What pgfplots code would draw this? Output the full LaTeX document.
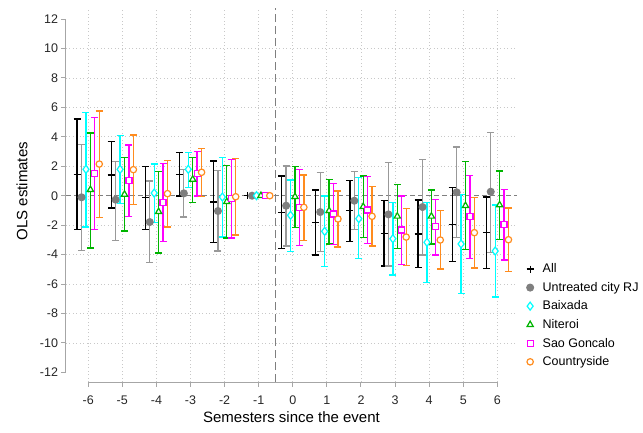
\documentclass[border=0pt]{standalone}
\usepackage{fontspec}
\setmainfont{Liberation Sans}
\usepackage{pgfplots}
\usepackage{pgfplotstable}
\pgfplotsset{compat=1.18}

\definecolor{c-all}{HTML}{000000}
\definecolor{c-rj}{HTML}{7F7F7F}
\definecolor{c-rjbar}{HTML}{999999}
\definecolor{c-baix}{HTML}{00FFFF}
\definecolor{c-nit}{HTML}{00B400}
\definecolor{c-sg}{HTML}{FF00FF}
\definecolor{c-cs}{HTML}{FF8C1E}
\definecolor{c-axis}{HTML}{A6A6A6}
\definecolor{c-grid}{HTML}{C8C8C8}

% t = semester, y = estimate, lo/hi = interval ends
\pgfplotstableread{
t y lo hi
-6 1.45 -2.28 5.21
-5 1.41 -0.84 3.69
-4 -0.13 -2.28 2.00
-3 1.45 -0.02 2.95
-2 -0.43 -3.19 2.36
-1 0 0 0
0 -1.15 -3.57 1.34
1 -1.83 -4.03 0.39
2 -1.02 -3.10 1.02
3 -2.56 -4.78 -0.31
4 -2.60 -4.87 -0.29
5 -1.95 -4.48 0.54
6 -2.51 -4.93 -0.09
}\tall
\pgfplotstableread{
t y lo hi
-6 -0.11 -3.73 3.49
-5 -0.27 -3.05 2.31
-4 -1.79 -4.55 1.00
-3 0.16 -1.45 1.80
-2 -1.04 -3.76 1.70
-1 0 0 0
0 -0.68 -3.42 2.02
1 -1.11 -3.80 1.56
2 -0.34 -2.28 1.63
3 -1.27 -4.78 2.24
4 -0.77 -4.03 2.47
5 0.23 -2.85 3.31
6 0.27 -3.87 4.28
}\trj
\pgfplotstableread{
t y lo hi
-6 1.79 -2.13 5.66
-5 1.79 -0.52 4.08
-4 0.18 -1.81 2.15
-3 1.79 0.57 2.95
-2 -0.09 -2.81 2.58
-1 0 0 0
0 -1.33 -3.78 1.07
1 -2.42 -4.82 -0.02
2 -1.56 -4.25 1.22
3 -2.92 -5.39 -0.45
4 -3.17 -5.91 -0.45
5 -3.28 -6.66 0.09
6 -3.76 -6.88 -0.63
}\tbaix
\pgfplotstableread{
t y lo hi
-6 0.41 -3.55 4.26
-5 0.09 -2.40 2.58
-4 -1.09 -3.90 1.63
-3 1.11 -0.47 2.58
-2 -0.41 -2.87 2.04
-1 0 0 0
0 -0.07 -2.15 1.97
1 -1.02 -3.28 1.11
2 -0.75 -2.83 1.34
3 -1.40 -3.57 0.77
4 -1.40 -3.28 0.39
5 -0.68 -3.64 2.31
6 -0.63 -2.96 1.68
}\tnit
\pgfplotstableread{
t y lo hi
-6 1.52 -2.28 5.30
-5 1.02 -1.43 3.44
-4 -0.47 -3.12 2.20
-3 1.52 -0.02 2.99
-2 -0.18 -2.87 2.45
-1 0 0 0
0 -0.79 -3.40 1.79
1 -1.24 -3.30 0.84
2 -0.97 -3.24 1.29
3 -2.33 -4.69 -0.02
4 -2.10 -4.03 -0.25
5 -1.43 -4.25 1.38
6 -1.95 -4.37 0.43
}\tsg
\pgfplotstableread{
t y lo hi
-6 2.15 -1.49 5.75
-5 1.77 -0.59 4.12
-4 0.14 -2.13 2.38
-3 1.59 -0.07 3.19
-2 -0.07 -2.67 2.54
-1 0 0 0
0 -0.79 -3.06 1.41
1 -1.58 -3.49 0.32
2 -1.40 -3.42 0.61
3 -2.81 -4.75 -0.86
4 -3.01 -4.98 -1.02
5 -2.51 -4.91 -0.13
6 -2.99 -5.16 -0.84
}\tcs

\pgfplotsset{
  ci/.style={
    only marks, line width=1.2pt,
    error bars/y dir=both, error bars/y explicit,
    error bars/error bar style={line width=1.3pt, color=#1},
    error bars/error mark options={rotate=90, mark size=3.5pt, line width=1.3pt, color=#1},
  },
}

\begin{document}
\begin{tikzpicture}
\useasboundingbox (-66pt,-50pt) rectangle (577pt,382pt);
\begin{axis}[
  at={(0,0)}, anchor=south west,
  scale only axis,
  width=451pt, height=374pt,
  xmin=-6.651, xmax=6.575,
  ymin=-12.656, ymax=12.751,
  axis x line*=bottom, axis y line*=left,
  axis line style={draw=none},
  xtick={-6,...,6},
  xticklabels={-6,-5,-4,-3,-2,-1,0,1,2,3,4,5,6},
  ytick={-12,-10,...,12},
  yticklabels={-12,-10,-8,-6,-4,-2,0,2,4,6,8,10,12},
  minor ytick={-10,-8,-6,-4,-2,2,4,6,8,10},
  xmajorgrids, yminorgrids,
  major grid style={c-grid, line width=0.8pt, dash pattern=on 0.9pt off 2.6pt},
  minor grid style={c-grid, line width=0.8pt, dash pattern=on 0.9pt off 2.6pt},
  tick align=outside,
  major tick length=4.5pt, minor tick length=0pt,
  tick style={c-axis, line width=1pt},
  ticklabel style={font=\fontsize{12.5}{15}\selectfont, text=black!85},
  xticklabel style={yshift=-6pt},
  xlabel={Semesters since the event},
  ylabel={OLS estimates},
  xlabel style={font=\fontsize{15}{18}\selectfont, at={(axis description cs:0.5,-0.094)}, anchor=center},
  ylabel style={font=\fontsize{15}{18}\selectfont, at={(axis description cs:-0.0976,0.51)}, anchor=center, rotate=0},
  clip=false,
  legend style={
    at={(1.021,0.178)}, anchor=west,
    draw=none, fill=none, inner sep=0pt,
    font=\fontsize{12.5}{15}\selectfont,
    row sep=4pt,
    /tikz/every odd column/.append style={column sep=7pt},
  },
  legend cell align=left,
]
% reference lines
\addplot[forget plot, c-rj, line width=1pt, dash pattern=on 5pt off 3pt]
  coordinates {(-6.651,0) (6.575,0)};
\addplot[forget plot, c-rj, line width=1.5pt, dash pattern=on 8pt off 4pt]
  coordinates {(-0.5,-12.656) (-0.5,12.751)};
% axis lines over the tick range only
\draw[c-axis, line width=1pt] (axis cs:-6.651,-12) -- (axis cs:-6.651,12);
\draw[c-axis, line width=1pt] (axis cs:-6,-12.656) -- (axis cs:6,-12.656);

\addplot[ci=c-all, black, mark=+, mark size=3.5pt]
  table[x expr=\thisrow{t}-0.325, y=y,
        y error plus expr=\thisrow{hi}-\thisrow{y},
        y error minus expr=\thisrow{y}-\thisrow{lo}] {\tall};
\addplot[ci=c-rjbar, c-rj, mark=*, mark size=3.4pt]
  table[x expr=\thisrow{t}-0.195, y=y,
        y error plus expr=\thisrow{hi}-\thisrow{y},
        y error minus expr=\thisrow{y}-\thisrow{lo}] {\trj};
\addplot[ci=c-baix, c-baix, mark=diamond*, mark size=4pt, mark options={fill=white}]
  table[x expr=\thisrow{t}-0.065, y=y,
        y error plus expr=\thisrow{hi}-\thisrow{y},
        y error minus expr=\thisrow{y}-\thisrow{lo}] {\tbaix};
\addplot[ci=c-nit, c-nit, mark=triangle*, mark size=3.6pt, mark options={fill=white}]
  table[x expr=\thisrow{t}+0.065, y=y,
        y error plus expr=\thisrow{hi}-\thisrow{y},
        y error minus expr=\thisrow{y}-\thisrow{lo}] {\tnit};
\addplot[ci=c-sg, c-sg, mark=square*, mark size=3pt, mark options={fill=white}]
  table[x expr=\thisrow{t}+0.195, y=y,
        y error plus expr=\thisrow{hi}-\thisrow{y},
        y error minus expr=\thisrow{y}-\thisrow{lo}] {\tsg};
\addplot[ci=c-cs, c-cs, mark=*, mark size=3.2pt, mark options={fill=white}]
  table[x expr=\thisrow{t}+0.325, y=y,
        y error plus expr=\thisrow{hi}-\thisrow{y},
        y error minus expr=\thisrow{y}-\thisrow{lo}] {\tcs};

\legend{All, Untreated city RJ, Baixada, Niteroi, Sao Goncalo, Countryside}
\end{axis}
\end{tikzpicture}
\end{document}
